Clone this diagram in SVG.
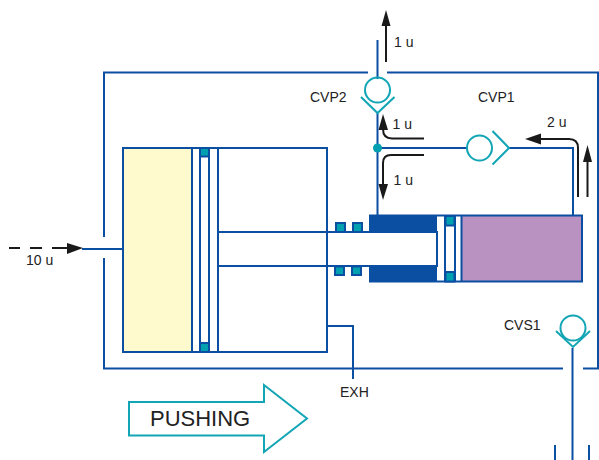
<svg xmlns="http://www.w3.org/2000/svg" width="599" height="460" viewBox="0 0 599 460">
<style>
.b{fill:none;stroke:#0b4fa3;stroke-width:2}
.bf{fill:#0b4fa3}
.t{fill:none;stroke:#12a5b5;stroke-width:2}
.sf{fill:#00a0b0;stroke:#0b4fa3;stroke-width:2}
.k{fill:none;stroke:#1a1a1a;stroke-width:2}
.h{fill:#1a1a1a}
text{font-family:"Liberation Sans",Arial,sans-serif;font-size:14px;fill:#222}
</style>
<rect width="599" height="460" fill="#fff"/>
<g id="connectors">
<path class="b" d="M104 237V72.500H368M387 72.500H598V368.500H583M563 368.500H104V258"/>
<path class="b" d="M377.500 40V79M377.500 113V216M378 148H467M509 148H573V216"/>
<path class="b" d="M82 249H123"/>
<path class="b" d="M327 326H353V379"/>
<path class="b" d="M572.500 348V460M555 445V460M589 445V460"/>
<path class="k" d="M386 62V24"/><path class="h" d="M386 10L390.500 26H381.500Z"/>
<path class="k" d="M424 138.500H392Q383 138.500 383 129"/><path class="h" d="M383 114L388 130H378.500Z"/>
<path class="k" d="M424 155H391Q383 155 383 163V186"/><path class="h" d="M383 200L388 184H378.500Z"/>
<path class="k" d="M578 197V148Q578 139 569 139H540"/><path class="h" d="M525 139L541 133.500V144.500Z"/>
<path class="k" d="M587.500 197V160"/><path class="h" d="M587.500 145L592 162H583Z"/>
<path class="k" d="M9 248H20M30 248H42M52 248H67"/><path class="h" d="M83 248L67 243V254Z"/>
</g>
<g id="big-cylinder">
<rect x="123" y="148" width="69" height="204" fill="#fffacd"/>
<rect class="b" x="123" y="148" width="204" height="204"/>
<path class="b" d="M192 148V352M200 148V352M209 148V352M218 148V352"/>
<path class="b" d="M218 232H437V266H218"/>
<rect class="sf" x="200" y="148" width="9" height="8.500"/>
<rect class="sf" x="200" y="343" width="9" height="9"/>
</g>
<g id="small-cylinder">
<rect x="461" y="216" width="120" height="65" fill="#b992c1"/>
<path class="bf" d="M369 215H437V232H369ZM369 266H437V282H369Z"/>
<path class="b" d="M369 215.500H582V281.500H369"/>
<path class="b" d="M445 215.500V281.500M455 215.500V281.500M461.500 215.500V281.500"/>
<rect class="sf" x="445.500" y="216" width="9" height="9.500"/>
<rect class="sf" x="445.500" y="272" width="9" height="9.500"/>
<rect class="sf" x="336" y="223" width="9" height="9"/>
<rect class="sf" x="353" y="223" width="9" height="9"/>
<rect class="sf" x="335" y="266.500" width="9" height="8.500"/>
<rect class="sf" x="352" y="266.500" width="9" height="8.500"/>
</g>
<g id="CVP2">
<circle class="t" cx="377.500" cy="90" r="12.500"/>
<path class="t" d="M361 97L377.500 113L394.500 97"/>
<text x="310" y="102">CVP2</text>
</g>
<g id="junction"><circle cx="377.500" cy="148" r="4.500" fill="#00a0b0"/></g>
<g id="CVP1">
<circle class="t" cx="479.500" cy="148" r="12.500"/>
<path class="t" d="M492.500 131L509 148L492.500 164.500"/>
<text x="478" y="102">CVP1</text>
</g>
<g id="CVS1">
<circle class="t" cx="573" cy="328" r="12.500"/>
<path class="t" d="M556 331L573 347L590 331"/>
<text x="504" y="330">CVS1</text>
</g>
<g id="pushing">
<path class="t" d="M129 402H264V385L307 418.500L264 452V435.500H129Z"/>
<text x="150" y="426" style="font-size:22px">PUSHING</text>
</g>
<g id="labels">
<text x="394" y="47">1 u</text>
<text x="392.500" y="129">1 u</text>
<text x="393.500" y="185">1 u</text>
<text x="547" y="127">2 u</text>
<text x="26" y="265">10 u</text>
<text x="340" y="397">EXH</text>
</g>
</svg>
